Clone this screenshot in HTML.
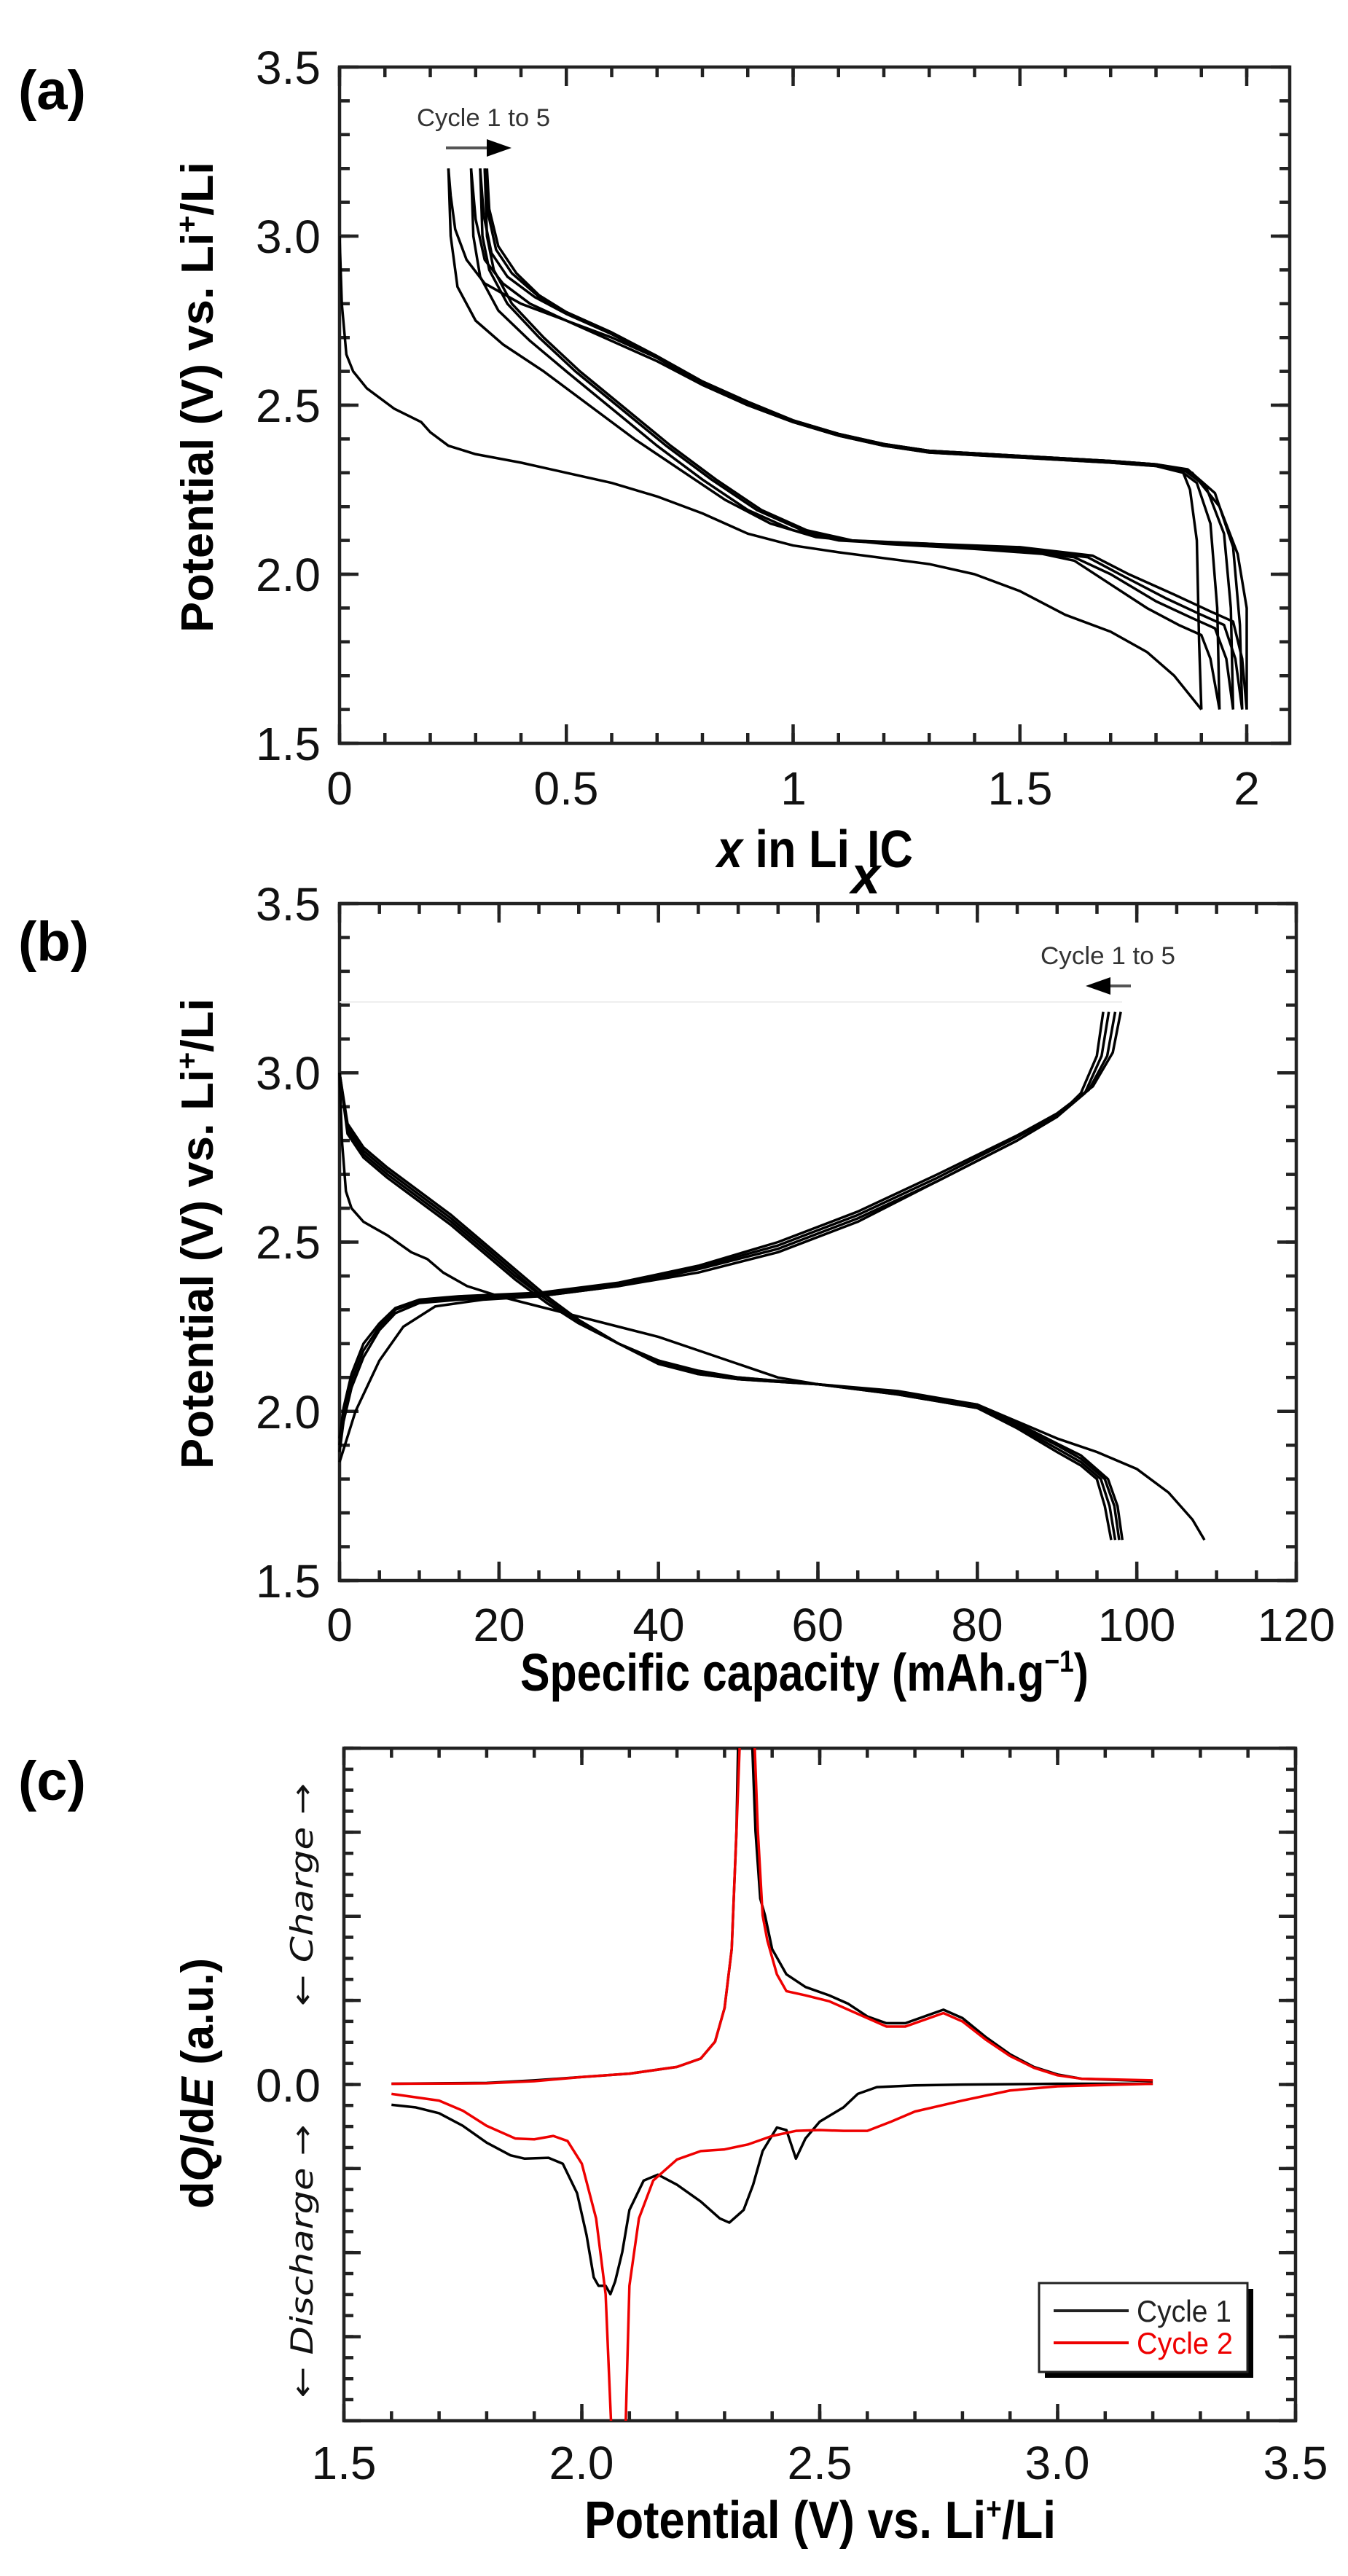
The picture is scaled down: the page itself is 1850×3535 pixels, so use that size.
<!DOCTYPE html>
<html><head><meta charset="utf-8"><style>
html,body{margin:0;padding:0;background:#fff;}
svg{display:block;}
.tl{font-family:"Liberation Sans Narrow","Liberation Sans",sans-serif;font-size:64px;fill:#111;}
.ttl{font-family:"Liberation Sans Narrow","Liberation Sans",sans-serif;font-weight:bold;font-size:72px;fill:#000;}
.yt{font-family:"Liberation Sans",sans-serif;font-weight:bold;font-size:62px;fill:#000;}
.pl{font-family:"Liberation Sans",sans-serif;font-weight:bold;font-size:76px;fill:#000;}
.d{fill:none;stroke:#000;stroke-width:3.5;vector-effect:non-scaling-stroke;stroke-linejoin:round;}
.r{fill:none;stroke:#e00;stroke-width:3.5;vector-effect:non-scaling-stroke;stroke-linejoin:round;}
.fr{fill:none;stroke:#222;stroke-width:4.5;}
.tk{fill:none;stroke:#222;stroke-width:4.5;}
</style></head><body>
<svg width="1850" height="3535" viewBox="0 0 1850 3535" xmlns="http://www.w3.org/2000/svg">
<defs>
<clipPath id="ca"><rect x="466" y="92" width="1304" height="928"/></clipPath>
<clipPath id="cc"><rect x="472" y="2399" width="1306" height="923"/></clipPath>
</defs>

<!-- ================= PANEL A ================= -->
<text class="pl" x="25" y="150">(a)</text>
<path class="tk" d="M466 92 h14m-14 46.4h14m-14 46.4h14m-14 46.4h14m-14 46.4h14m-14 46.4h14m-14 46.4h14m-14 46.4h14m-14 46.4h14m-14 46.4h14m-14 46.4h14m-14 46.4h14m-14 46.4h14m-14 46.4h14m-14 46.4h14m-14 46.4h14m-14 46.4h14m-14 46.4h14m-14 46.4h14m-14 46.4h14m-14 46.4h14"/>
<path class="tk" d="M466 92 h26m-26 232h26m-26 232h26m-26 232h26m-26 232h26"/>
<path class="tk" d="M1770 92 h-14m14 46.4h-14m14 46.4h-14m14 46.4h-14m14 46.4h-14m14 46.4h-14m14 46.4h-14m14 46.4h-14m14 46.4h-14m14 46.4h-14m14 46.4h-14m14 46.4h-14m14 46.4h-14m14 46.4h-14m14 46.4h-14m14 46.4h-14m14 46.4h-14m14 46.4h-14m14 46.4h-14m14 46.4h-14m14 46.4h-14"/>
<path class="tk" d="M1770 92 h-26m26 232h-26m26 232h-26m26 232h-26m26 232h-26"/>
<path class="tk" d="M466 1020 v-14m62.25 14v-14m62.25 14v-14m62.25 14v-14m62.25 14v-14m62.25 14v-14m62.25 14v-14m62.25 14v-14m62.25 14v-14m62.25 14v-14m62.25 14v-14m62.25 14v-14m62.25 14v-14m62.25 14v-14m62.25 14v-14m62.25 14v-14m62.25 14v-14m62.25 14v-14m62.25 14v-14m62.25 14v-14m62.25 14v-14"/>
<path class="tk" d="M466 1020 v-26m311.25 26v-26m311.25 26v-26m311.25 26v-26m311.25 26v-26"/>
<path class="tk" d="M466 92 v14m62.25 -14v14m62.25 -14v14m62.25 -14v14m62.25 -14v14m62.25 -14v14m62.25 -14v14m62.25 -14v14m62.25 -14v14m62.25 -14v14m62.25 -14v14m62.25 -14v14m62.25 -14v14m62.25 -14v14m62.25 -14v14m62.25 -14v14m62.25 -14v14m62.25 -14v14m62.25 -14v14m62.25 -14v14m62.25 -14v14"/>
<path class="tk" d="M466 92 v26m311.25 -26v26m311.25 -26v26m311.25 -26v26m311.25 -26v26"/>
<rect class="fr" x="466" y="92" width="1304" height="928"/>
<g class="tl" text-anchor="end">
<text x="440" y="115">3.5</text><text x="440" y="347">3.0</text><text x="440" y="579">2.5</text><text x="440" y="811">2.0</text><text x="440" y="1043">1.5</text>
</g>
<g class="tl" text-anchor="middle">
<text x="466" y="1104">0</text><text x="777" y="1104">0.5</text><text x="1089" y="1104">1</text><text x="1400" y="1104">1.5</text><text x="1711" y="1104">2</text>
</g>
<text class="ttl" x="984" y="1190" textLength="182" lengthAdjust="spacingAndGlyphs"><tspan font-style="italic">x</tspan> in Li</text>
<text class="ttl" x="1168" y="1226" font-size="38" font-style="italic">x</text>
<text class="ttl" x="1190" y="1190" textLength="63" lengthAdjust="spacingAndGlyphs">IC</text>
<text class="yt" transform="translate(292,545) rotate(-90)" text-anchor="middle" textLength="646" lengthAdjust="spacingAndGlyphs">Potential (V) vs. Li<tspan dy="-22" font-size="40">+</tspan><tspan dy="22">/Li</tspan></text>
<text x="572" y="173" font-family="Liberation Sans Narrow,Liberation Sans,sans-serif" font-size="34" fill="#333" textLength="183" lengthAdjust="spacingAndGlyphs">Cycle 1 to 5</text>
<line x1="612" y1="203" x2="672" y2="203" stroke="#555" stroke-width="4"/>
<polygon points="702,203 668,191 668,215" fill="#000"/>
<g clip-path="url(#ca)">
<g transform="translate(466,1716) scale(622.5,-464)">
<polyline class="d" points="0,3.0 0.005,2.8 0.015,2.65 0.03,2.6 0.06,2.55 0.12,2.49 0.18,2.45 0.2,2.42 0.24,2.38 0.3,2.355 0.4,2.33 0.5,2.3 0.6,2.27 0.7,2.23 0.8,2.18 0.9,2.12 1.0,2.085 1.1,2.065 1.3,2.03 1.4,2.0 1.5,1.95 1.6,1.88 1.7,1.83 1.78,1.77 1.84,1.7 1.9,1.6"/>
<polyline class="d" points="1.9,1.6 1.895,1.8 1.89,2.1 1.875,2.25 1.86,2.3 1.8,2.32 1.7,2.33 1.5,2.345 1.3,2.36 1.2,2.38 1.1,2.41 1.0,2.45 0.9,2.5 0.8,2.56 0.7,2.64 0.6,2.7 0.5,2.75 0.4,2.8 0.32,2.86 0.28,2.93 0.255,3.02 0.245,3.12 0.24,3.2"/>
<polyline class="d" points="0.24,3.2 0.245,3.0 0.26,2.85 0.3,2.75 0.36,2.68 0.45,2.6 0.55,2.5 0.65,2.4 0.75,2.31 0.85,2.22 0.95,2.15 1.05,2.11 1.2,2.09 1.4,2.075 1.55,2.06 1.62,2.04 1.7,1.97 1.78,1.9 1.85,1.85 1.9,1.82 1.92,1.75 1.94,1.6"/>
<polyline class="d" points="1.94,1.6 1.935,1.9 1.92,2.15 1.89,2.27 1.85,2.31 1.8,2.32 1.7,2.33 1.5,2.345 1.3,2.36 1.2,2.38 1.1,2.41 1.0,2.45 0.9,2.5 0.8,2.56 0.7,2.63 0.6,2.69 0.5,2.75 0.42,2.8 0.36,2.86 0.32,2.93 0.3,3.05 0.29,3.2"/>
<polyline class="d" points="0.29,3.2 0.295,3.0 0.31,2.88 0.35,2.78 0.42,2.69 0.5,2.6 0.6,2.49 0.7,2.38 0.8,2.28 0.9,2.19 1.0,2.13 1.1,2.1 1.3,2.085 1.5,2.07 1.62,2.05 1.7,2.0 1.8,1.92 1.88,1.87 1.93,1.84 1.955,1.75 1.97,1.6"/>
<polyline class="d" points="1.97,1.6 1.965,1.9 1.95,2.12 1.91,2.26 1.86,2.31 1.8,2.325 1.7,2.335 1.5,2.35 1.3,2.365 1.2,2.385 1.1,2.415 1.0,2.455 0.9,2.505 0.8,2.565 0.7,2.64 0.6,2.71 0.5,2.77 0.43,2.82 0.37,2.88 0.335,2.95 0.318,3.06 0.31,3.2"/>
<polyline class="d" points="0.31,3.2 0.315,3.0 0.33,2.9 0.37,2.8 0.44,2.7 0.52,2.6 0.62,2.49 0.72,2.38 0.82,2.28 0.92,2.19 1.02,2.13 1.12,2.1 1.3,2.09 1.5,2.075 1.65,2.05 1.72,2.0 1.82,1.93 1.9,1.88 1.95,1.85 1.975,1.75 1.99,1.6"/>
<polyline class="d" points="1.99,1.6 1.985,1.85 1.97,2.08 1.93,2.24 1.87,2.31 1.8,2.325 1.7,2.335 1.5,2.35 1.3,2.365 1.2,2.385 1.1,2.415 1.0,2.455 0.9,2.51 0.8,2.57 0.7,2.645 0.6,2.715 0.5,2.775 0.44,2.82 0.38,2.89 0.345,2.96 0.327,3.07 0.32,3.2"/>
<polyline class="d" points="0.32,3.2 0.325,3.0 0.34,2.9 0.38,2.8 0.45,2.7 0.53,2.6 0.63,2.49 0.73,2.38 0.83,2.28 0.93,2.19 1.03,2.13 1.13,2.1 1.3,2.09 1.5,2.08 1.66,2.055 1.74,2.0 1.84,1.94 1.92,1.89 1.97,1.86 1.99,1.75 2.0,1.6"/>
<polyline class="d" points="2.0,1.6 2.0,1.9 1.98,2.06 1.94,2.2 1.88,2.3 1.8,2.325 1.7,2.335 1.5,2.35 1.3,2.365 1.2,2.385 1.1,2.415 1.0,2.455 0.9,2.51 0.8,2.57 0.7,2.645 0.6,2.715 0.5,2.775 0.44,2.825 0.39,2.89 0.35,2.97 0.33,3.08 0.325,3.2"/>
</g></g>

<!-- ================= PANEL B ================= -->
<text class="pl" x="25" y="1318">(b)</text>
<path class="tk" d="M466 1240 h14m-14 46.45h14m-14 46.45h14m-14 46.45h14m-14 46.45h14m-14 46.45h14m-14 46.45h14m-14 46.45h14m-14 46.45h14m-14 46.45h14m-14 46.45h14m-14 46.45h14m-14 46.45h14m-14 46.45h14m-14 46.45h14m-14 46.45h14m-14 46.45h14m-14 46.45h14m-14 46.45h14m-14 46.45h14m-14 46.45h14"/>
<path class="tk" d="M466 1240 h26m-26 232.25h26m-26 232.25h26m-26 232.25h26m-26 232.25h26"/>
<path class="tk" d="M1779 1240 h-14m14 46.45h-14m14 46.45h-14m14 46.45h-14m14 46.45h-14m14 46.45h-14m14 46.45h-14m14 46.45h-14m14 46.45h-14m14 46.45h-14m14 46.45h-14m14 46.45h-14m14 46.45h-14m14 46.45h-14m14 46.45h-14m14 46.45h-14m14 46.45h-14m14 46.45h-14m14 46.45h-14m14 46.45h-14m14 46.45h-14"/>
<path class="tk" d="M1779 1240 h-26m26 232.25h-26m26 232.25h-26m26 232.25h-26m26 232.25h-26"/>
<path class="tk" d="M466 2169 v-14m54.71 14v-14m54.71 14v-14m54.71 14v-14m54.71 14v-14m54.71 14v-14m54.71 14v-14m54.71 14v-14m54.71 14v-14m54.71 14v-14m54.71 14v-14m54.71 14v-14m54.71 14v-14m54.71 14v-14m54.71 14v-14m54.71 14v-14m54.71 14v-14m54.71 14v-14m54.71 14v-14m54.71 14v-14m54.71 14v-14m54.71 14v-14m54.71 14v-14m54.71 14v-14m54.71 14v-14"/>
<path class="tk" d="M466 2169 v-26m218.83 26v-26m218.83 26v-26m218.83 26v-26m218.83 26v-26m218.83 26v-26m218.83 26v-26"/>
<path class="tk" d="M466 1240 v14m54.71 -14v14m54.71 -14v14m54.71 -14v14m54.71 -14v14m54.71 -14v14m54.71 -14v14m54.71 -14v14m54.71 -14v14m54.71 -14v14m54.71 -14v14m54.71 -14v14m54.71 -14v14m54.71 -14v14m54.71 -14v14m54.71 -14v14m54.71 -14v14m54.71 -14v14m54.71 -14v14m54.71 -14v14m54.71 -14v14m54.71 -14v14m54.71 -14v14m54.71 -14v14m54.71 -14v14"/>
<path class="tk" d="M466 1240 v26m218.83 -26v26m218.83 -26v26m218.83 -26v26m218.83 -26v26m218.83 -26v26m218.83 -26v26"/>
<rect class="fr" x="466" y="1240" width="1313" height="929"/>
<g class="tl" text-anchor="end">
<text x="440" y="1263">3.5</text><text x="440" y="1495">3.0</text><text x="440" y="1727">2.5</text><text x="440" y="1960">2.0</text><text x="440" y="2192">1.5</text>
</g>
<g class="tl" text-anchor="middle">
<text x="466" y="2252">0</text><text x="685" y="2252">20</text><text x="904" y="2252">40</text><text x="1122" y="2252">60</text><text x="1341" y="2252">80</text><text x="1560" y="2252">100</text><text x="1779" y="2252">120</text>
</g>
<text class="ttl" x="714" y="2320" textLength="780" lengthAdjust="spacingAndGlyphs">Specific capacity (mAh.g<tspan dy="-26" font-size="42">−1</tspan><tspan dy="26">)</tspan></text>
<text class="yt" transform="translate(292,1693) rotate(-90)" text-anchor="middle" textLength="646" lengthAdjust="spacingAndGlyphs">Potential (V) vs. Li<tspan dy="-22" font-size="40">+</tspan><tspan dy="22">/Li</tspan></text>
<text x="1428" y="1323" font-family="Liberation Sans Narrow,Liberation Sans,sans-serif" font-size="34" fill="#333" textLength="185" lengthAdjust="spacingAndGlyphs">Cycle 1 to 5</text>
<line x1="1518" y1="1353" x2="1552" y2="1353" stroke="#555" stroke-width="4"/>
<polygon points="1490,1353 1524,1341 1524,1365" fill="#000"/>
<line x1="466" y1="1375" x2="1540" y2="1375" stroke="#eee" stroke-width="2"/>
<g transform="translate(466,2865.75) scale(10.94,-464.5)">
<polyline class="d" points="0,3.0 0.3,2.8 0.8,2.65 1.5,2.6 3,2.56 6,2.52 9,2.47 11,2.45 13,2.41 16,2.37 20,2.34 25,2.31 30,2.28 35,2.25 40,2.22 45,2.18 50,2.14 55,2.1 60,2.08 70,2.06 80,2.02 85,1.97 90,1.92 95,1.88 100,1.83 104,1.76 107,1.68 108.5,1.62"/>
<polyline class="d" points="0,3.0 1,2.85 3,2.78 6,2.72 10,2.65 14,2.58 18,2.5 22,2.42 26,2.34 30,2.27 35,2.2 40,2.14 45,2.11 50,2.095 60,2.08 70,2.05 80,2.01 85,1.95 90,1.88 93,1.84 95,1.8 96,1.72 96.8,1.62"/>
<polyline class="d" points="0,3.0 1,2.84 3,2.77 6,2.71 10,2.64 14,2.57 18,2.49 22,2.41 26,2.33 30,2.27 35,2.2 40,2.145 45,2.11 50,2.095 60,2.08 70,2.05 80,2.01 85,1.955 90,1.89 93,1.85 95.5,1.8 96.6,1.72 97.3,1.62"/>
<polyline class="d" points="0,3.0 1,2.83 3,2.76 6,2.7 10,2.63 14,2.56 18,2.48 22,2.4 26,2.33 30,2.265 35,2.2 40,2.15 45,2.115 50,2.1 60,2.08 70,2.055 80,2.015 85,1.96 90,1.9 93,1.86 96,1.8 97.2,1.72 97.8,1.62"/>
<polyline class="d" points="0,3.0 1,2.82 3,2.75 6,2.69 10,2.62 14,2.55 18,2.47 22,2.39 26,2.32 30,2.26 35,2.2 40,2.15 45,2.12 50,2.1 60,2.08 70,2.055 80,2.02 85,1.965 90,1.905 93,1.87 96.4,1.8 97.6,1.72 98.2,1.62"/>
<polyline class="d" points="0,1.85 2,2.0 5,2.15 8,2.25 12,2.31 18,2.33 25,2.34 35,2.37 45,2.41 55,2.47 65,2.56 75,2.68 85,2.8 90,2.87 93,2.94 95,3.05 95.8,3.18"/>
<polyline class="d" points="0,1.88 0.5,1.97 1.5,2.07 3,2.16 5,2.24 7,2.29 10,2.32 15,2.33 25,2.34 35,2.37 45,2.42 55,2.48 65,2.57 75,2.68 85,2.8 90,2.87 93.5,2.94 95.6,3.05 96.5,3.18"/>
<polyline class="d" points="0,1.9 0.5,1.99 1.5,2.09 3,2.18 5,2.25 7,2.3 10,2.325 15,2.335 25,2.345 35,2.375 45,2.425 55,2.49 65,2.58 75,2.69 85,2.81 90,2.875 94,2.95 96.3,3.05 97.3,3.18"/>
<polyline class="d" points="0,1.92 0.5,2.01 1.5,2.11 3,2.2 5,2.26 7,2.305 10,2.33 15,2.34 25,2.35 35,2.38 45,2.43 55,2.5 65,2.59 75,2.7 85,2.815 90,2.88 94.5,2.96 97,3.06 98,3.18"/>
</g>

<!-- ================= PANEL C ================= -->
<text class="pl" x="25" y="2470">(c)</text>
<path class="tk" d="M472 2399 h13m-13 28.84h13m-13 28.84h13m-13 28.84h13m-13 28.84h13m-13 28.84h13m-13 28.84h13m-13 28.84h13m-13 28.84h13m-13 28.84h13m-13 28.84h13m-13 28.84h13m-13 28.84h13m-13 28.84h13m-13 28.84h13m-13 28.84h13m-13 28.84h13m-13 28.84h13m-13 28.84h13m-13 28.84h13m-13 28.84h13m-13 28.84h13m-13 28.84h13m-13 28.84h13m-13 28.84h13m-13 28.84h13m-13 28.84h13m-13 28.84h13m-13 28.84h13m-13 28.84h13m-13 28.84h13m-13 28.84h13"/>
<path class="tk" d="M472 2399 h23m-23 115.375h23m-23 115.375h23m-23 115.375h23m-23 115.375h23m-23 115.375h23m-23 115.375h23m-23 115.375h23m-23 115.375h23"/>
<path class="tk" d="M1778 2399 h-13m13 28.84h-13m13 28.84h-13m13 28.84h-13m13 28.84h-13m13 28.84h-13m13 28.84h-13m13 28.84h-13m13 28.84h-13m13 28.84h-13m13 28.84h-13m13 28.84h-13m13 28.84h-13m13 28.84h-13m13 28.84h-13m13 28.84h-13m13 28.84h-13m13 28.84h-13m13 28.84h-13m13 28.84h-13m13 28.84h-13m13 28.84h-13m13 28.84h-13m13 28.84h-13m13 28.84h-13m13 28.84h-13m13 28.84h-13m13 28.84h-13m13 28.84h-13m13 28.84h-13m13 28.84h-13m13 28.84h-13"/>
<path class="tk" d="M1778 2399 h-23m23 115.375h-23m23 115.375h-23m23 115.375h-23m23 115.375h-23m23 115.375h-23m23 115.375h-23m23 115.375h-23m23 115.375h-23"/>
<path class="tk" d="M472 3322 v-13m65.3 13v-13m65.3 13v-13m65.3 13v-13m65.3 13v-13m65.3 13v-13m65.3 13v-13m65.3 13v-13m65.3 13v-13m65.3 13v-13m65.3 13v-13m65.3 13v-13m65.3 13v-13m65.3 13v-13m65.3 13v-13m65.3 13v-13m65.3 13v-13m65.3 13v-13m65.3 13v-13m65.3 13v-13m65.3 13v-13"/>
<path class="tk" d="M472 3322 v-23m326.5 23v-23m326.5 23v-23m326.5 23v-23m326.5 23v-23"/>
<path class="tk" d="M472 2399 v13m65.3 -13v13m65.3 -13v13m65.3 -13v13m65.3 -13v13m65.3 -13v13m65.3 -13v13m65.3 -13v13m65.3 -13v13m65.3 -13v13m65.3 -13v13m65.3 -13v13m65.3 -13v13m65.3 -13v13m65.3 -13v13m65.3 -13v13m65.3 -13v13m65.3 -13v13m65.3 -13v13m65.3 -13v13m65.3 -13v13"/>
<path class="tk" d="M472 2399 v23m326.5 -23v23m326.5 -23v23m326.5 -23v23m326.5 -23v23"/>
<rect class="fr" x="472" y="2399" width="1306" height="923"/>
<text class="tl" x="440" y="2884" text-anchor="end">0.0</text>
<g class="tl" text-anchor="middle">
<text x="472" y="3402">1.5</text><text x="798" y="3402">2.0</text><text x="1125" y="3402">2.5</text><text x="1451" y="3402">3.0</text><text x="1778" y="3402">3.5</text>
</g>
<text class="ttl" x="802" y="3483" textLength="647" lengthAdjust="spacingAndGlyphs">Potential (V) vs. Li<tspan dy="-26" font-size="42">+</tspan><tspan dy="26">/Li</tspan></text>
<text class="yt" transform="translate(292,2859) rotate(-90)" text-anchor="middle" textLength="344" lengthAdjust="spacingAndGlyphs">d<tspan font-style="italic">Q</tspan>/d<tspan font-style="italic">E</tspan> (a.u.)</text>
<text transform="translate(429,2600) rotate(-90)" text-anchor="middle" font-family="DejaVu Sans,Liberation Sans,sans-serif" font-style="italic" font-size="42" fill="#111" textLength="306" lengthAdjust="spacingAndGlyphs">← Charge →</text>
<text transform="translate(429,3103) rotate(-90)" text-anchor="middle" font-family="DejaVu Sans,Liberation Sans,sans-serif" font-style="italic" font-size="42" fill="#111" textLength="375" lengthAdjust="spacingAndGlyphs">← Discharge →</text>
<g clip-path="url(#cc)">
<g transform="translate(-507.5,2859.5) scale(653,-115.5)">
<polyline class="d" points="1.6,0 1.7,0.005 1.8,0.01 1.9,0.04 2.0,0.08 2.1,0.12 2.2,0.2 2.25,0.3 2.28,0.5 2.3,0.9 2.315,1.6 2.325,3 2.33,4.5 2.355,4.5 2.365,3 2.375,2.2 2.385,2.0 2.4,1.6 2.43,1.3 2.47,1.15 2.52,1.05 2.56,0.95 2.6,0.8 2.64,0.72 2.68,0.72 2.72,0.8 2.76,0.88 2.8,0.78 2.85,0.55 2.9,0.35 2.95,0.2 3.0,0.11 3.05,0.06 3.2,0.03"/>
<polyline class="d" points="1.6,-0.25 1.65,-0.28 1.7,-0.35 1.75,-0.5 1.8,-0.7 1.85,-0.85 1.88,-0.89 1.93,-0.88 1.96,-0.95 1.99,-1.3 2.01,-1.8 2.025,-2.3 2.035,-2.4 2.05,-2.4 2.06,-2.5 2.07,-2.35 2.085,-2.0 2.1,-1.5 2.13,-1.15 2.16,-1.08 2.2,-1.2 2.25,-1.4 2.29,-1.6 2.31,-1.65 2.34,-1.5 2.36,-1.2 2.38,-0.8 2.41,-0.52 2.43,-0.55 2.45,-0.89 2.47,-0.65 2.5,-0.45 2.55,-0.28 2.58,-0.12 2.62,-0.04 2.7,-0.02 2.8,-0.01 3.0,0 3.2,0"/>
<polyline class="r" points="1.6,0 1.8,0.005 1.9,0.03 2.0,0.08 2.1,0.12 2.2,0.2 2.25,0.3 2.28,0.5 2.3,0.9 2.315,1.6 2.325,3 2.335,4.5 2.36,4.5 2.37,3 2.38,2.0 2.39,1.7 2.41,1.3 2.43,1.1 2.47,1.05 2.52,0.98 2.56,0.88 2.6,0.78 2.64,0.68 2.68,0.68 2.72,0.76 2.76,0.84 2.8,0.74 2.85,0.52 2.9,0.33 2.95,0.19 3.0,0.1 3.05,0.06 3.2,0.04"/>
<polyline class="r" points="1.6,-0.12 1.7,-0.2 1.75,-0.32 1.8,-0.5 1.86,-0.65 1.9,-0.66 1.94,-0.62 1.97,-0.68 2.0,-0.95 2.03,-1.6 2.05,-2.5 2.065,-4.5 2.09,-4.5 2.1,-2.4 2.12,-1.6 2.15,-1.15 2.2,-0.9 2.25,-0.8 2.3,-0.78 2.35,-0.72 2.4,-0.62 2.45,-0.56 2.5,-0.55 2.55,-0.56 2.6,-0.56 2.65,-0.45 2.7,-0.33 2.8,-0.2 2.9,-0.08 3.0,-0.03 3.2,0"/>
</g></g>
<rect x="1434" y="3141" width="286" height="122" fill="#000"/>
<rect x="1426" y="3133" width="286" height="122" fill="#fff" stroke="#222" stroke-width="3"/>
<line x1="1446" y1="3171" x2="1549" y2="3171" stroke="#222" stroke-width="4"/>
<line x1="1446" y1="3215" x2="1549" y2="3215" stroke="#e00" stroke-width="4"/>
<text x="1560" y="3186" font-family="Liberation Sans Narrow,Liberation Sans,sans-serif" font-size="42" fill="#222" textLength="130" lengthAdjust="spacingAndGlyphs">Cycle 1</text>
<text x="1560" y="3230" font-family="Liberation Sans Narrow,Liberation Sans,sans-serif" font-size="42" fill="#e00" textLength="132" lengthAdjust="spacingAndGlyphs">Cycle 2</text>
</svg>
</body></html>
